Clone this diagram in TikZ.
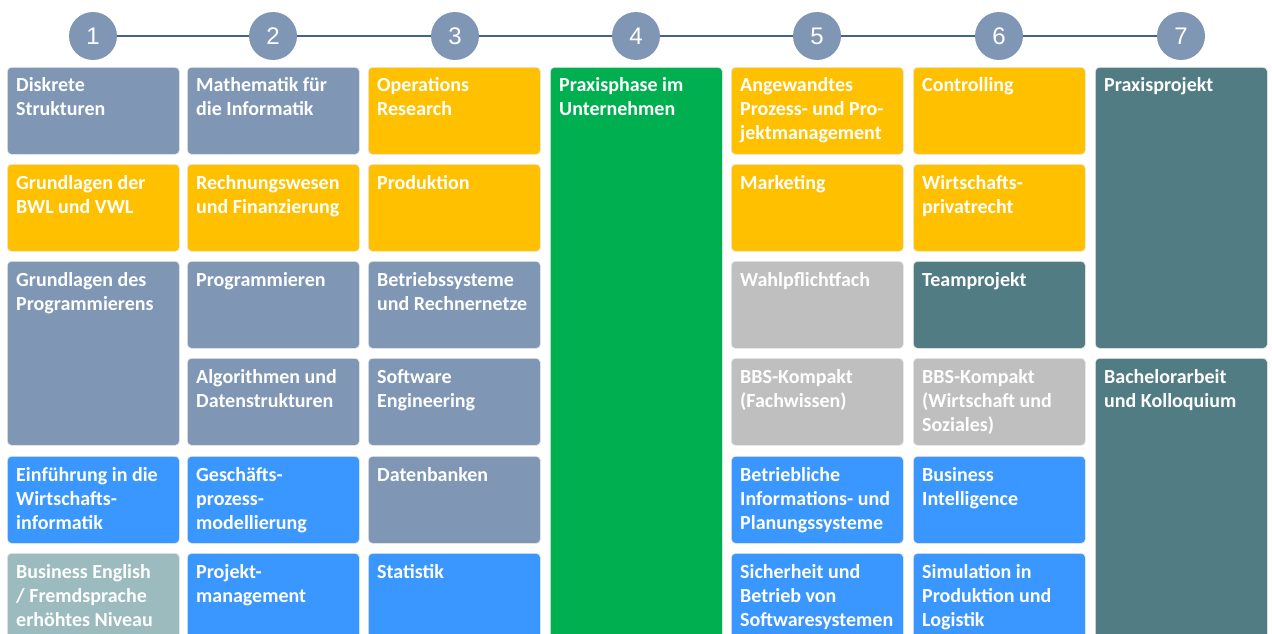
\documentclass[tikz,border=0pt]{standalone}
\usepackage{fontspec}
\setmainfont{Carlito}
\newfontfamily\numfont{Liberation Sans}
\definecolor{slate}{HTML}{7F96B5}
\definecolor{gold}{HTML}{FFC000}
\definecolor{grn}{HTML}{00B050}
\definecolor{blu}{HTML}{3A97FF}
\definecolor{gry}{HTML}{BFBFBF}
\definecolor{teal2}{HTML}{517C84}
\definecolor{lteal}{HTML}{9BBBBF}
\definecolor{linec}{HTML}{44628F}
\newcommand\mybox[6]{%
  \node[box, fill=#5, minimum height=#4pt] (#1) at (#2,#3) {};
  \node[lbl] (#1t) at ([xshift=9pt,yshift=-25pt]#1.north west) {\parbox[t]{160pt}{\raggedright #6}};}
\begin{document}
\begin{tikzpicture}[x=1pt,y=-1pt,
  box/.style={rounded corners=4pt, draw=black!9, line width=0.7pt, minimum width=172pt, anchor=north west, inner sep=0pt},
  lbl/.style={anchor=base west, inner sep=0pt, text=white, font=\bfseries\fontsize{20}{24}\selectfont},
  stage/.style={circle, fill=slate, minimum size=48pt, inner sep=0pt, text=white, font=\numfont\fontsize{24}{24}\selectfont},
  conn/.style={draw=linec, line width=1.6pt}]
\useasboundingbox (0,0) rectangle (1272,634);
\clip (0,0) rectangle (1272,634);
\fill[white] (0,0) rectangle (1272,634);
% stages
\node[stage] (c1) at (93,36) {1};
\node[stage] (c2) at (273,36) {2};
\node[stage] (c3) at (455,36) {3};
\node[stage] (c4) at (636,36) {4};
\node[stage] (c5) at (817,36) {5};
\node[stage] (c6) at (999,36) {6};
\node[stage] (c7) at (1181,36) {7};
\draw[conn] (c1) -- (c2);
\draw[conn] (c2) -- (c3);
\draw[conn] (c3) -- (c4);
\draw[conn] (c4) -- (c5);
\draw[conn] (c5) -- (c6);
\draw[conn] (c6) -- (c7);
% column 1
\mybox{a1}{7}{67}{87}{slate}{Diskrete\\Strukturen}
\mybox{a2}{7}{164}{87}{gold}{Grundlagen der\\BWL und VWL}
\mybox{a3}{7}{261}{184}{slate}{Grundlagen des\\Programmierens}
\mybox{a5}{7}{456}{87}{blu}{Einführung in die\\Wirtschafts-\\informatik}
\mybox{a6}{7}{553}{100}{lteal}{Business English\\/ Fremdsprache\\erhöhtes Niveau}
% column 2
\mybox{b1}{187}{67}{87}{slate}{Mathematik für\\die Informatik}
\mybox{b2}{187}{164}{87}{gold}{Rechnungswesen\\und Finanzierung}
\mybox{b3}{187}{261}{87}{slate}{Programmieren}
\mybox{b4}{187}{358}{87}{slate}{Algorithmen und\\Datenstrukturen}
\mybox{b5}{187}{456}{87}{blu}{Geschäfts-\\prozess-\\modellierung}
\mybox{b6}{187}{553}{100}{blu}{Projekt-\\management}
% column 3
\mybox{e1}{368}{67}{87}{gold}{Operations\\Research}
\mybox{e2}{368}{164}{87}{gold}{Produktion}
\mybox{e3}{368}{261}{87}{slate}{Betriebssysteme\\und Rechnernetze}
\mybox{e4}{368}{358}{87}{slate}{Software\\Engineering}
\mybox{e5}{368}{456}{87}{slate}{Datenbanken}
\mybox{e6}{368}{553}{100}{blu}{Statistik}
% column 4
\mybox{f1}{550}{67}{600}{grn}{Praxisphase im\\Unternehmen}
% column 5
\mybox{g1}{731}{67}{87}{gold}{Angewandtes\\Prozess- und Pro-\\jektmanagement}
\mybox{g2}{731}{164}{87}{gold}{Marketing}
\mybox{g3}{731}{261}{87}{gry}{Wahlpflichtfach}
\mybox{g4}{731}{358}{87}{gry}{BBS-Kompakt\\(Fachwissen)}
\mybox{g5}{731}{456}{87}{blu}{Betriebliche\\Informations- und\\Planungssysteme}
\mybox{g6}{731}{553}{100}{blu}{Sicherheit und\\Betrieb von\\Softwaresystemen}
% column 6
\mybox{h1}{913}{67}{87}{gold}{Controlling}
\mybox{h2}{913}{164}{87}{gold}{Wirtschafts-\\privatrecht}
\mybox{h3}{913}{261}{87}{teal2}{Teamprojekt}
\mybox{h4}{913}{358}{87}{gry}{BBS-Kompakt\\(Wirtschaft und\\Soziales)}
\mybox{h5}{913}{456}{87}{blu}{Business\\Intelligence}
\mybox{h6}{913}{553}{100}{blu}{Simulation in\\Produktion und\\Logistik}
% column 7
\mybox{k1}{1095}{67}{281}{teal2}{Praxisprojekt}
\mybox{k2}{1095}{358}{300}{teal2}{Bachelorarbeit\\und Kolloquium}
\end{tikzpicture}
\end{document}
